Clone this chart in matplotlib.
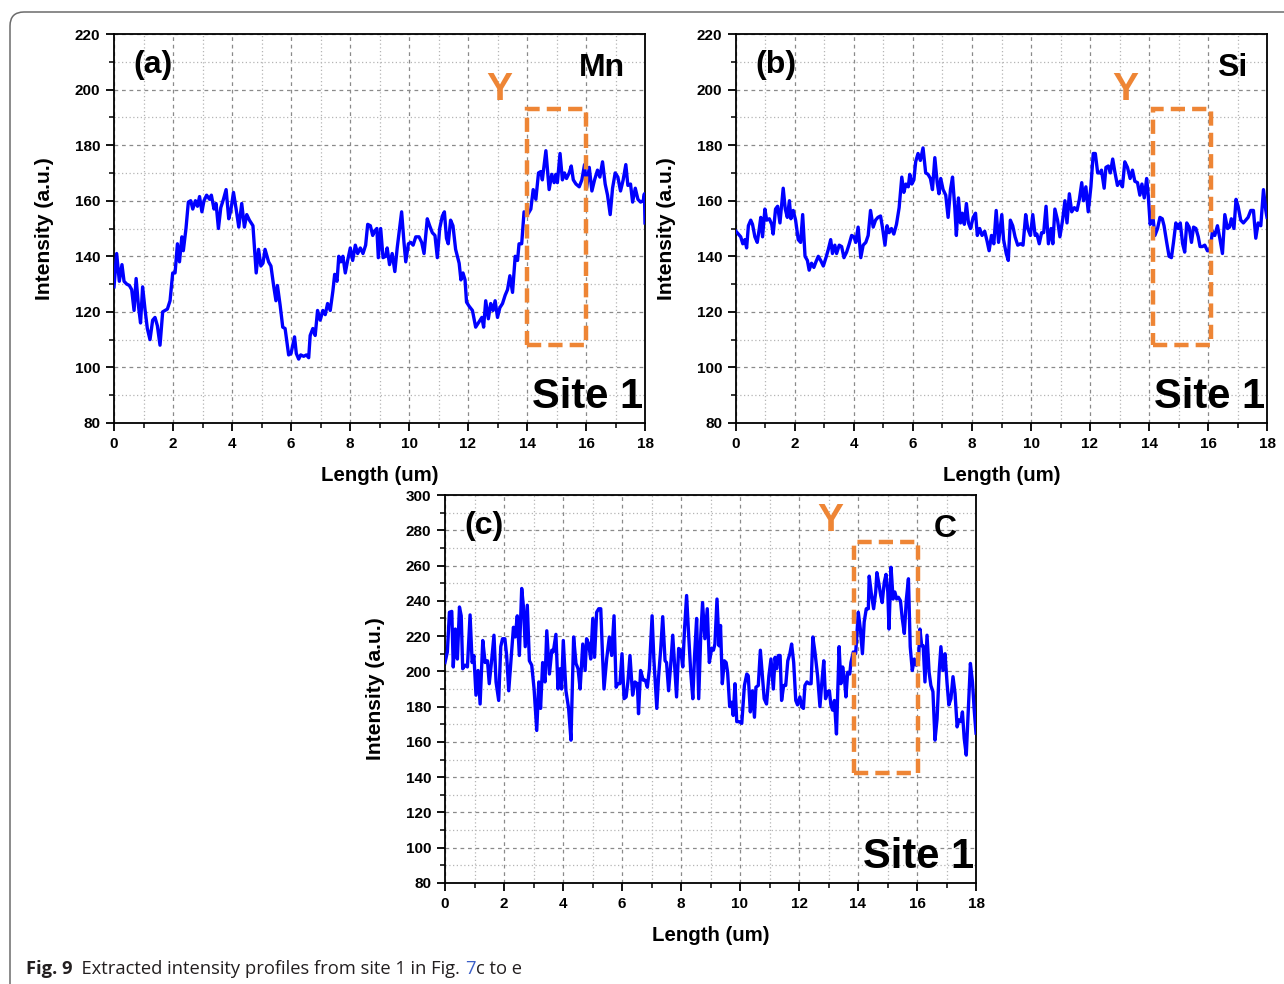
import matplotlib
matplotlib.use("Agg")
import matplotlib.pyplot as plt
from matplotlib.ticker import MultipleLocator
from matplotlib.patches import Rectangle, PathPatch
from matplotlib.path import Path
from matplotlib.transforms import IdentityTransform

# ---------------- data (Length in um, Intensity in a.u.) ----------------
mn_x = [0.00, 0.09, 0.18, 0.27, 0.34, 0.43, 0.52, 0.60, 0.68, 0.75, 0.83, 0.90, 0.97, 1.05, 1.13, 1.22, 1.31,
        1.39, 1.47, 1.56, 1.65, 1.73, 1.81, 1.90, 1.99, 2.07, 2.15, 2.22, 2.30, 2.35, 2.44, 2.52, 2.60, 2.67,
        2.76, 2.83, 2.90, 2.98, 3.05, 3.14, 3.24, 3.30, 3.39, 3.46, 3.54, 3.62, 3.71, 3.80, 3.89, 3.96, 4.05,
        4.14, 4.23, 4.33, 4.42, 4.50, 4.59, 4.71, 4.82, 4.90, 4.98, 5.05, 5.12, 5.24, 5.32, 5.41, 5.49, 5.54,
        5.63, 5.72, 5.80, 5.92, 6.00, 6.06, 6.12, 6.18, 6.26, 6.33, 6.43, 6.52, 6.60, 6.65, 6.74, 6.82, 6.90,
        6.99, 7.08, 7.16, 7.24, 7.33, 7.42, 7.48, 7.56, 7.62, 7.69, 7.76, 7.84, 7.92, 8.01, 8.09, 8.18, 8.26,
        8.35, 8.44, 8.53, 8.60, 8.69, 8.77, 8.83, 8.91,
        8.96, 9.04, 9.12, 9.21, 9.26, 9.34, 9.43, 9.52, 9.60, 9.68, 9.75, 9.83, 9.89, 9.98, 10.06, 10.14,
        10.23, 10.34, 10.43, 10.51, 10.62, 10.70, 10.79, 10.88, 10.96, 11.04, 11.13, 11.20, 11.27, 11.33,
        11.41, 11.49, 11.58, 11.70, 11.76, 11.83, 11.90, 11.95, 12.04, 12.15, 12.26, 12.38, 12.47, 12.53,
        12.60, 12.69, 12.77, 12.85, 12.92, 13.00, 13.08, 13.17, 13.26, 13.34, 13.42, 13.51, 13.60, 13.68,
        13.73, 13.82, 13.90, 14.02, 14.13, 14.21, 14.30, 14.39, 14.47, 14.52, 14.64, 14.75, 14.84, 14.92,
        14.98, 15.03, 15.12, 15.20, 15.27, 15.34, 15.43, 15.50, 15.57, 15.66, 15.77, 15.86, 15.95, 16.02,
        16.11, 16.20, 16.29, 16.39, 16.47, 16.56, 16.65, 16.73, 16.82, 16.90, 16.99, 17.08, 17.17, 17.26,
        17.35, 17.42, 17.51, 17.58, 17.67, 17.76, 17.85, 17.94, 17.98, 18.00]
mn_y = [129, 141, 131, 137, 131, 130, 129.5, 128, 120.5, 132, 122, 116, 129, 121, 114, 110, 117,
        118, 115, 108, 120, 120.5, 121, 124, 134, 134, 144.5, 138, 147, 142, 150, 159.5, 160, 157,
        160, 158, 161.5, 156, 160, 162, 160.5, 162, 157, 159, 150, 157.5, 160.5, 164, 153.5, 156.5, 163,
        157, 150.5, 159, 150.5, 155, 153, 151, 134, 142.5, 136.5, 137.5, 142.5, 138, 136.5, 129.5, 124, 129.5,
        122.5, 114.5, 114, 104.5, 105, 108, 111, 105, 103, 104.5, 104, 104.5, 103.5, 111.5, 114, 111.5, 120.5,
        117, 120.5, 119, 123, 120.5, 127.5, 133.5, 131, 140, 138, 140, 134, 138.5, 143, 138.5, 144, 141,
        143, 141, 144, 151.5, 151, 147.5, 149, 150,
        139.5, 150, 139.5, 140, 143, 137, 141, 134.5, 143, 150, 156, 145, 138, 144.5, 145, 144,
        147, 147, 145, 141, 153.5, 151, 148.5, 147.5, 139.5, 150, 154.5, 156, 146.5, 144.5,
        153, 151, 142.5, 137.5, 131.5, 134, 131.5, 123.5, 122, 120.5, 114.5, 116.5, 118, 114.5,
        124, 117.5, 123, 120.5, 124, 118, 121.5, 123, 126, 128, 133, 127, 140, 138.5,
        144.5, 144.5, 156, 155, 157, 164, 160.5, 170, 170.5, 167.5, 178, 164, 169.5, 166.5,
        169.5, 166.5, 177, 167.5, 170, 168, 170, 172.5, 167.5, 166, 165, 167.5, 173, 164.5,
        172, 163.5, 167.5, 171, 168.5, 174, 166, 162, 155, 164.5, 170, 168.5, 163.5, 167.5,
        173, 165.5, 166, 159.5, 164.5, 160.5, 159.5, 160, 162.5, 152]

si_x = [0.00, 0.08, 0.16, 0.23, 0.30, 0.36, 0.42, 0.50, 0.56, 0.64, 0.72, 0.79, 0.84, 0.90, 0.98, 1.04,
        1.13, 1.21, 1.26, 1.34, 1.41, 1.49, 1.55, 1.60, 1.67, 1.74, 1.81, 1.86, 1.94, 2.02, 2.11, 2.19,
        2.26, 2.34, 2.42, 2.48, 2.56, 2.64, 2.71, 2.79, 2.87, 2.96, 3.05, 3.13, 3.21, 3.27, 3.35, 3.41,
        3.50, 3.58, 3.66, 3.75, 3.84, 3.92, 4.00, 4.06, 4.14, 4.23, 4.31, 4.40, 4.48, 4.56, 4.65, 4.73,
        4.81, 4.90, 4.97, 5.05, 5.12, 5.19, 5.27, 5.35, 5.44, 5.53, 5.62, 5.69, 5.76, 5.84, 5.89, 5.96,
        6.03, 6.09, 6.17, 6.25, 6.34, 6.43, 6.51, 6.59, 6.66, 6.74, 6.82, 6.88, 6.94, 7.02, 7.11, 7.19,
        7.27, 7.34, 7.42, 7.47, 7.54, 7.61, 7.67, 7.74, 7.81, 7.88, 7.95, 8.04, 8.12, 8.18, 8.26, 8.34,
        8.43, 8.51, 8.58, 8.66, 8.74, 8.82, 8.90,
        9.01, 9.07, 9.16, 9.23, 9.30, 9.38, 9.46, 9.55, 9.64, 9.73, 9.82, 9.89, 9.98, 10.06, 10.14, 10.20,
        10.28, 10.36, 10.43, 10.51, 10.59, 10.68, 10.74, 10.81, 10.90, 10.98, 11.07, 11.15, 11.22, 11.30,
        11.38, 11.47, 11.56, 11.64, 11.72, 11.78, 11.86, 11.94, 12.03, 12.11, 12.18, 12.26, 12.34, 12.39,
        12.48, 12.54, 12.62, 12.69, 12.77, 12.84, 12.93, 13.02, 13.10, 13.18, 13.27, 13.36, 13.44, 13.52,
        13.61, 13.69, 13.76, 13.84, 13.92, 13.97, 14.04, 14.12, 14.20, 14.29, 14.37, 14.45, 14.51, 14.60,
        14.68, 14.76, 14.83, 14.91, 14.99, 15.06, 15.14, 15.21, 15.28, 15.36, 15.44, 15.51, 15.59, 15.67,
        15.73, 15.81, 15.89, 15.98, 16.07, 16.15, 16.23, 16.32, 16.40, 16.49, 16.57, 16.66, 16.73, 16.79,
        16.88, 16.95, 17.02, 17.11, 17.20, 17.28, 17.36, 17.45, 17.54, 17.62, 17.70, 17.79, 17.88, 17.96,
        18.00]
si_y = [149, 148, 147, 144.5, 146, 143, 151, 153, 151.5, 147, 145, 150, 154, 147, 157, 153,
        153.5, 151.5, 148, 157, 158, 152, 159, 164.5, 157, 154, 160, 153.5, 156.5, 153, 146, 145,
        155, 140, 138.5, 135, 137.5, 136, 138, 140, 138.5, 136.5, 139.5, 142.5, 146, 141, 144, 141,
        144, 143.5, 139.5, 141.5, 144.5, 147.5, 147, 145, 150.5, 139.5, 144, 145, 147.5, 156.5, 150.5, 153,
        154, 154.5, 150, 144, 151, 148.5, 150, 148, 151.5, 157.5, 168.5, 163, 166, 165, 169.5, 166,
        167.5, 174, 177, 174.5, 179, 170, 169.5, 168, 164, 175.5, 166.5, 162.5, 168, 164, 162, 154,
        164, 168.5, 157, 147.5, 161, 152, 155.5, 151.5, 159, 152, 150, 154, 155.5, 147.5, 150, 147.5,
        149, 145.5, 142, 147.5, 144.5, 156.5, 145,
        155, 146, 141, 138.5, 153, 151, 147, 144, 144.5, 144, 155, 150, 147.5, 155, 147.5, 148,
        144.5, 148.5, 148.5, 158, 144.5, 150, 144.5, 157, 153, 147, 153, 160, 152, 162.5,
        156, 157.5, 156.5, 160.5, 166.5, 160, 165, 156, 165, 177, 177, 170, 170, 171,
        164.5, 172, 172.5, 170, 175, 170.5, 165.5, 167, 165, 174, 172, 168, 171, 167,
        166.5, 162, 166, 161, 168, 162.5, 151.5, 155.5, 147.5, 150, 154, 153.5, 151, 145,
        140, 139.5, 145, 152, 150, 152, 144.5, 141.5, 152, 150.5, 145, 150.5, 150, 147,
        143.5, 143.5, 144, 142, 142, 149, 147.5, 151, 146.5, 141, 155, 150, 150.5, 153.5,
        150, 160.5, 158, 153, 152, 153, 154, 156.5, 156.5, 146.5, 152, 151, 164, 156.5,
        154]

c_x = [0.00, 0.08, 0.15, 0.23, 0.28, 0.35, 0.42, 0.49, 0.55, 0.60, 0.68, 0.76, 0.85, 0.92, 0.98, 1.05,
       1.12, 1.19, 1.28, 1.36, 1.44, 1.50, 1.58, 1.66, 1.73, 1.82, 1.89, 1.95, 2.03, 2.09, 2.16, 2.23,
       2.32, 2.38, 2.45, 2.52, 2.60, 2.66, 2.72, 2.79, 2.86, 2.94, 3.02, 3.11, 3.18, 3.24, 3.31, 3.39,
       3.45, 3.54, 3.62, 3.67, 3.76, 3.83, 3.90, 3.95, 4.01, 4.10, 4.19, 4.27, 4.36, 4.44, 4.51, 4.58,
       4.67, 4.75, 4.80, 4.87, 4.94, 5.01, 5.07, 5.14, 5.21, 5.28, 5.34, 5.39, 5.48, 5.57, 5.65, 5.73,
       5.80, 5.86, 5.93, 6.00, 6.07, 6.14, 6.20, 6.27, 6.36, 6.44, 6.52, 6.56, 6.63, 6.72, 6.79, 6.86,
       6.93, 7.02, 7.08, 7.18, 7.24, 7.31, 7.38, 7.46, 7.51, 7.58, 7.65, 7.72, 7.80, 7.85, 7.92, 7.99,
       8.06, 8.12, 8.19, 8.26, 8.33, 8.40, 8.46, 8.53, 8.60, 8.67, 8.73, 8.81, 8.89, 8.96,
       9.04, 9.10, 9.15, 9.22, 9.29, 9.34, 9.40, 9.47, 9.53, 9.58, 9.65, 9.72, 9.77, 9.83, 9.89, 9.97,
       10.06, 10.15, 10.23, 10.28, 10.35, 10.42, 10.49, 10.54, 10.62, 10.69, 10.76, 10.82, 10.90, 10.98,
       11.05, 11.13, 11.19, 11.24, 11.30, 11.36, 11.41, 11.48, 11.55, 11.62, 11.69, 11.75, 11.82, 11.89,
       11.95, 12.03, 12.09, 12.15, 12.20, 12.27, 12.34, 12.41, 12.47, 12.54, 12.63, 12.71, 12.77, 12.84,
       12.90, 12.97, 13.03, 13.08, 13.14, 13.20, 13.27, 13.36, 13.42, 13.48, 13.54, 13.59, 13.65, 13.72,
       13.76, 13.84, 13.92, 14.01, 14.08, 14.15, 14.21, 14.28, 14.35, 14.38, 14.46, 14.53, 14.60, 14.64,
       14.71, 14.77, 14.82, 14.89, 14.95, 15.01, 15.05, 15.12, 15.19, 15.25, 15.31, 15.37, 15.44, 15.50,
       15.57, 15.64, 15.71, 15.77, 15.84, 15.91, 15.98, 16.05, 16.10, 16.16, 16.21, 16.27, 16.34, 16.41,
       16.47, 16.54, 16.61, 16.68, 16.75, 16.81, 16.88, 16.95, 17.02, 17.08, 17.15, 17.22, 17.29, 17.36,
       17.42, 17.49, 17.54, 17.60, 17.67, 17.74, 17.81, 17.88, 17.94, 18.00]
c_y = [205, 211, 233.5, 234, 202.5, 224, 207, 236.5, 231.5, 201.5, 203.5, 202.5, 232, 205, 209, 186.5,
       200.5, 181.5, 217.5, 205, 206, 193, 206, 220.5, 194, 183.5, 214, 218.5, 218.5, 209, 189, 205,
       225, 219.5, 231.5, 209, 247, 236.5, 214, 237.5, 206, 203.5, 190, 166.5, 194, 179, 205, 194,
       223, 198.5, 212, 211, 221, 190, 201.5, 190, 217.5, 189, 179, 161, 219.5, 204.5, 201.5, 190,
       215.5, 200.5, 218.5, 215.5, 207, 230, 208, 233.5, 235.5, 235.5, 209, 190, 207, 219.5, 209, 231.5,
       191, 193, 193, 210, 184.5, 185.5, 194, 209, 186.5, 194, 193, 176, 200.5, 195, 195, 191,
       201.5, 231.5, 207, 179, 197, 212, 231, 206, 205, 189, 203.5, 220.5, 199.5, 185.5, 213, 212,
       202.5, 224, 243, 220.5, 199.5, 184.5, 209, 230, 184.5, 220.5, 239, 218.5, 235.5, 205,
       213, 212, 215.5, 241, 214.5, 226, 193, 206, 205, 199.5, 180, 182.5, 175, 193, 171.5, 171.5,
       170.5, 192, 198.5, 197.5, 177, 189, 174, 191, 192, 212, 197.5, 184.5, 181.5, 197.5,
       207, 190, 208, 201.5, 209, 209, 183.5, 192, 192, 206, 210, 215.5, 205, 183.5,
       181, 185.5, 180, 179, 192, 194, 193, 193, 219.5, 211, 197.5, 180, 193, 206,
       184.5, 188.5, 189, 181, 178, 183.5, 164.5, 214, 193, 202.5, 196, 185.5, 199.5, 198.5,
       205, 211, 210, 233.5, 224, 210, 228, 235.5, 235.5, 254, 243, 235.5, 245, 256,
       249.5, 243, 239, 250.5, 255, 245, 224, 259, 241, 245, 241, 242, 240, 230,
       221.5, 241, 252.5, 214, 200.5, 207, 203.5, 206, 224, 214.5, 214.5, 194, 220.5, 199.5,
       192, 188.5, 161, 173, 199.5, 214, 200.5, 210, 193, 181, 184.5, 197, 187.5, 168.5,
       172.5, 171.5, 177, 162, 152.5, 179, 204.5, 194, 178, 165]

panels = [
    dict(tag="(a)", elem="Mn", x=mn_x, y=mn_y, ylim=(80, 220), ytick=20,
         box=(14.0, 16.0, 108, 193), ymark=(13.05, 200)),
    dict(tag="(b)", elem="Si", x=si_x, y=si_y, ylim=(80, 220), ytick=20,
         box=(14.15, 16.1, 108, 193), ymark=(13.2, 200)),
    dict(tag="(c)", elem="C", x=c_x, y=c_y, ylim=(80, 300), ytick=20,
         box=(13.85, 16.05, 142.5, 273.5), ymark=(13.05, 285)),
]

W, H = 1284, 984
fig = plt.figure(figsize=(W / 100, H / 100), dpi=100)
rects = [
    [114 / W, 1 - 423 / H, 531 / W, 389 / H],
    [736 / W, 1 - 423 / H, 531 / W, 389 / H],
    [445 / W, 1 - 883 / H, 531 / W, 388 / H],
]
FONT = "Liberation Sans"
ORANGE = "#EE8535"

for p, r in zip(panels, rects):
    ax = fig.add_axes(r)
    ax.plot(p["x"], p["y"], color="#0000FF", lw=2.4, solid_joinstyle="round", zorder=3, clip_on=True)
    ax.set_xlim(0, 18)
    ax.set_ylim(*p["ylim"])
    ax.xaxis.set_major_locator(MultipleLocator(2))
    ax.xaxis.set_minor_locator(MultipleLocator(1))
    ax.yaxis.set_major_locator(MultipleLocator(p["ytick"]))
    ax.yaxis.set_minor_locator(MultipleLocator(p["ytick"] / 2))
    ax.grid(which="major", color="#8a8a8a", ls=(0, (3, 3)), lw=0.9, zorder=0)
    ax.grid(which="minor", color="#b5b5b5", ls=(0, (1, 2)), lw=0.9, zorder=0)
    ax.tick_params(which="major", direction="out", length=6, width=1.3, pad=4,
                   top=False, right=False, labelsize=11)
    ax.tick_params(which="minor", direction="out", length=3.5, width=1.1, top=False, right=False)
    for s in ax.spines.values():
        s.set_linewidth(1.3)
    for lab in ax.get_xticklabels() + ax.get_yticklabels():
        lab.set_fontweight("bold")
        lab.set_fontfamily(FONT)
    ax.set_xlabel("Length (um)", fontsize=14.7, fontweight="bold", family=FONT, labelpad=11)
    ax.set_ylabel("Intensity (a.u.)", fontsize=15.2, fontweight="bold", family=FONT, labelpad=15)

    x0, x1, y0, y1 = p["box"]
    ax.add_patch(Rectangle((x0, y0), x1 - x0, y1 - y0, fill=False, ec=ORANGE, lw=3.2,
                           ls=(0, (3.2, 1.6)), zorder=4))
    ax.text(p["ymark"][0], p["ymark"][1], "Y", color=ORANGE, fontsize=28, fontweight="bold",
            family=FONT, ha="center", va="center", zorder=5)
    ax.text(0.037, 0.92, p["tag"], transform=ax.transAxes, fontsize=23, fontweight="bold",
            family=FONT, ha="left", va="center", zorder=5)
    ax.text(0.963, 0.912, p["elem"], transform=ax.transAxes, fontsize=23, fontweight="bold",
            family=FONT, ha="right", va="center", zorder=5)
    ax.text(0.997, 0.068, "Site 1", transform=ax.transAxes, fontsize=30, fontweight="bold",
            family=FONT, ha="right", va="center", zorder=5)

# frame border with rounded top-left corner (pixel coordinates)
rad = 14
L, T = 10, H - 12
verts = [(L, -10), (L, T - rad), (L, T), (L + rad, T), (W + 10, T)]
codes = [Path.MOVETO, Path.LINETO, Path.CURVE3, Path.CURVE3, Path.LINETO]
fig.patches.append(PathPatch(Path(verts, codes), transform=IdentityTransform(), fill=False,
                             ec="#6b6b6b", lw=1.1))

# caption
renderer = fig.canvas.get_renderer()
cap_font = "Open Sans"
x = 26 / W
yb = 1 - 974 / H
parts = [("Fig. 9", "bold", "#231f20"), ("  Extracted intensity profiles from site 1 in Fig. ", "normal", "#231f20"),
         ("7", "normal", "#3b5fc8"), ("c to e", "normal", "#231f20")]
for txt, wt, col in parts:
    t = fig.text(x, yb, txt, fontsize=13.2, fontweight=wt, family=cap_font, color=col, va="baseline", ha="left")
    bb = t.get_window_extent(renderer=renderer)
    x += bb.width / W

fig.savefig("out.png", dpi=100)
